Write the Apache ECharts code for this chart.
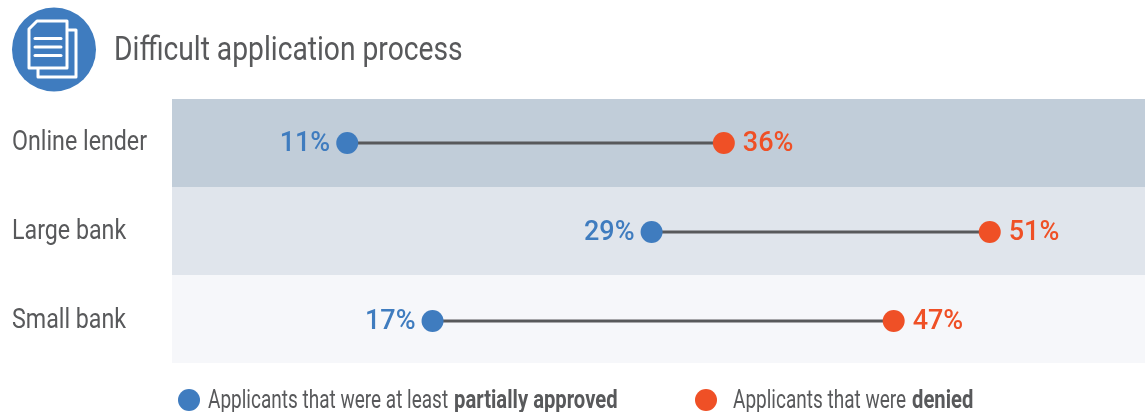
<!DOCTYPE html>
<html><head><meta charset="utf-8">
<style>html,body{margin:0;padding:0;background:#fff}#c{width:1145px;height:412px}</style>
<script src="https://cdn.jsdelivr.net/npm/echarts@6/dist/echarts.min.js"></script></head>
<body><div id="c"></div>
<script>
const categories = ['Online lender', 'Large bank', 'Small bank'];
const approvedPos = [11.4, 31.2, 16.95];
const deniedPos = [35.9, 53.2, 46.95];
const approvedLabels = ['11%', '29%', '17%'];
const deniedLabels = ['36%', '51%', '47%'];
const seriesNames = ['Applicants that were at least partially approved', 'Applicants that were denied'];
const bandColors = ['#C1CDD9', '#E0E5EC', '#F6F7FA'];
const BLUE = '#3F7CBF', RED = '#EF5026', GREY = '#58595B';
const chart = echarts.init(document.getElementById('c'));
const doc = (x, y) => ({type:'polygon', shape:{points:[[x+8,y],[x+38,y],[x+38,y+47],[x,y+47],[x,y+8]]},
  style:{fill:BLUE, stroke:'#fff', lineWidth:3, lineJoin:'round'}});
const rule = (y) => ({type:'line', shape:{x1:35,y1:y,x2:61,y2:y}, style:{stroke:'#fff', lineWidth:3, lineCap:'round'}});
const squeezed = (text, x, y, size, sx, weight) => ({type:'text', x, y, scaleX:sx,
  style:{text, fill:GREY, fontFamily:'Roboto', fontSize:size, fontWeight:weight||'normal', verticalAlign:'middle'}});
chart.setOption({
  animation:false,
  grid:[{left:172, top:99, width:973, height:264}, {left:172, top:98.5, width:973, height:267}],
  xAxis:[{type:'value', gridIndex:0, min:0, max:63.3, show:false, splitLine:{show:false}},
         {type:'value', gridIndex:1, min:0, max:63.3, show:false, splitLine:{show:false}}],
  yAxis:[{type:'category', gridIndex:0, inverse:true, data:categories,
      axisLine:{show:false}, axisTick:{show:false}, axisLabel:{show:false},
      splitArea:{show:true, interval:0, areaStyle:{color:bandColors}}, splitLine:{show:false}},
    {type:'category', gridIndex:1, inverse:true, data:categories,
      axisLine:{show:false}, axisTick:{show:false}, axisLabel:{show:false}, splitLine:{show:false}}],
  legend:[
    {left:173, top:384, itemWidth:22, itemHeight:22, icon:'circle', selectedMode:false, data:[seriesNames[0]], formatter:()=>''},
    {left:690, top:384, itemWidth:22, itemHeight:22, icon:'circle', selectedMode:false, data:[seriesNames[1]], formatter:()=>''}
  ],
  graphic:[
    {type:'circle', shape:{cx:54,cy:49.5,r:42}, style:{fill:BLUE}},
    doc(38,30), doc(29,21),
    rule(38.5), rule(47), rule(55.5),
    squeezed('Difficult application process', 114, 52, 33, 0.855),
    squeezed('Applicants that were at least ', 208, 402, 25, 0.76),
    squeezed('partially approved', 454, 402, 25, 0.81, 'bold'),
    squeezed('Applicants that were ', 733, 402, 25, 0.76),
    squeezed('denied', 912, 402, 25, 0.81, 'bold')
  ],
  series:[
    {type:'custom', silent:true, xAxisIndex:1, yAxisIndex:1, clip:false, z:2, data:categories.map((c,i)=>[0,i]),
      renderItem:(p,api)=>{const a=api.coord([0,api.value(1)]);
        return {type:'text', x:12, y:a[1], scaleX:0.86,
          style:{text:categories[p.dataIndex], fill:GREY, fontFamily:'Roboto', fontSize:27, verticalAlign:'middle'}};}},
    {type:'custom', silent:true, xAxisIndex:1, yAxisIndex:1, z:2, data:categories.map((c,i)=>[approvedPos[i],i,deniedPos[i]]),
      encode:{x:[0,2], y:1},
      renderItem:(p,api)=>{const a=api.coord([api.value(0),api.value(1)]), b=api.coord([api.value(2),api.value(1)]);
        return {type:'line', shape:{x1:a[0],y1:a[1],x2:b[0],y2:b[1]}, style:{stroke:'#58595B', lineWidth:3}};}},
    {name:seriesNames[0], type:'scatter', xAxisIndex:1, yAxisIndex:1, z:3, symbolSize:22, itemStyle:{color:BLUE, opacity:1},
      data:approvedPos.map((v,i)=>[v,i]),
      label:{show:true, position:'left', distance:6, offset:[0,1], color:BLUE, fontFamily:'Roboto', fontWeight:500, fontSize:27,
        formatter:p=>approvedLabels[p.dataIndex]}},
    {name:seriesNames[1], type:'scatter', xAxisIndex:1, yAxisIndex:1, z:3, symbolSize:22, itemStyle:{color:RED, opacity:1},
      data:deniedPos.map((v,i)=>[v,i]),
      label:{show:true, position:'right', distance:8, offset:[0,1], color:RED, fontFamily:'Roboto', fontWeight:500, fontSize:27,
        formatter:p=>deniedLabels[p.dataIndex]}}
  ]
});
</script></body></html>
